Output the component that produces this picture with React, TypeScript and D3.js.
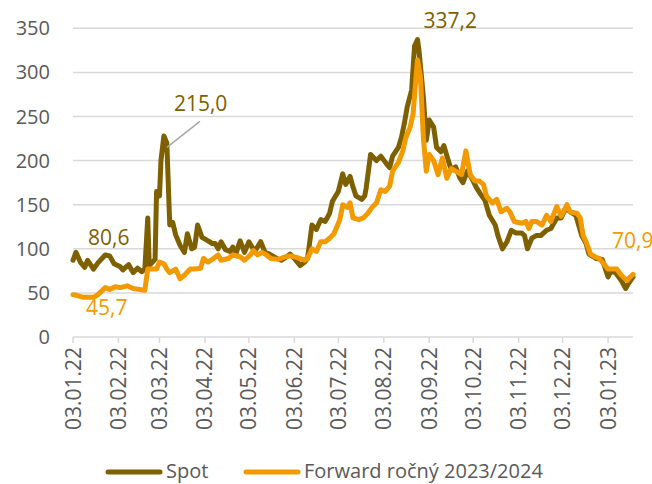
import React from 'react'
import * as d3 from 'd3'

// Spot price
const spotDates = [
  '2022-01-03', '2022-01-05', '2022-01-08', '2022-01-11', '2022-01-13', '2022-01-17', '2022-01-20', '2022-01-25',
  '2022-01-28', '2022-01-31', '2022-02-04', '2022-02-06', '2022-02-10', '2022-02-13', '2022-02-16', '2022-02-19',
  '2022-02-21', '2022-02-23', '2022-02-24', '2022-02-28', '2022-03-01', '2022-03-03', '2022-03-04', '2022-03-06',
  '2022-03-08', '2022-03-10', '2022-03-12', '2022-03-14', '2022-03-17', '2022-03-20', '2022-03-22', '2022-03-25',
  '2022-03-27', '2022-03-29', '2022-04-01', '2022-04-04', '2022-04-08', '2022-04-10', '2022-04-12', '2022-04-14',
  '2022-04-17', '2022-04-20', '2022-04-22', '2022-04-24', '2022-04-27', '2022-04-30', '2022-05-03', '2022-05-07',
  '2022-05-11', '2022-05-14', '2022-05-17', '2022-05-22', '2022-05-25', '2022-05-28', '2022-05-31', '2022-06-03',
  '2022-06-07', '2022-06-10', '2022-06-12', '2022-06-15', '2022-06-18', '2022-06-21', '2022-06-24', '2022-06-27',
  '2022-06-29', '2022-07-03', '2022-07-06', '2022-07-08', '2022-07-11', '2022-07-13', '2022-07-15', '2022-07-19',
  '2022-07-21', '2022-07-22', '2022-07-25', '2022-07-29', '2022-08-01', '2022-08-05', '2022-08-07', '2022-08-09',
  '2022-08-13', '2022-08-15', '2022-08-17', '2022-08-19', '2022-08-22', '2022-08-24', '2022-08-26', '2022-08-27',
  '2022-08-30', '2022-09-01', '2022-09-03', '2022-09-06', '2022-09-08', '2022-09-11', '2022-09-13', '2022-09-16',
  '2022-09-18', '2022-09-21', '2022-09-24', '2022-09-26', '2022-09-29', '2022-10-02', '2022-10-05', '2022-10-08',
  '2022-10-11', '2022-10-14', '2022-10-18', '2022-10-20', '2022-10-23', '2022-10-26', '2022-10-29', '2022-11-01',
  '2022-11-05', '2022-11-07', '2022-11-09', '2022-11-12', '2022-11-15', '2022-11-18', '2022-11-22', '2022-11-25',
  '2022-11-29', '2022-12-02', '2022-12-05', '2022-12-09', '2022-12-12', '2022-12-16', '2022-12-19', '2022-12-21',
  '2022-12-26', '2022-12-30', '2023-01-03', '2023-01-05', '2023-01-08', '2023-01-12', '2023-01-15', '2023-01-17',
  '2023-01-20',
]
const spotValues = [
  87, 96, 85, 79, 87, 77, 84, 93,
  92, 83, 80, 76, 82, 73, 78, 74,
  77, 135, 81, 88, 165, 160, 200, 228,
  220, 127, 130, 116, 104, 96, 117, 100,
  102, 127, 113, 110, 106, 106, 100, 108,
  99, 97, 102, 94, 109, 96, 108, 97,
  108, 96, 94, 89, 87, 90, 94, 89,
  81, 85, 89, 127, 122, 133, 131, 140,
  154, 165, 185, 173, 182, 170, 160, 156,
  160, 169, 207, 200, 205, 196, 192, 205,
  215, 226, 242, 261, 280, 330, 337.2, 325,
  272, 223, 246, 238, 215, 210, 217, 200,
  190, 193, 180, 175, 188, 180, 170, 162,
  155, 138, 127, 114, 100, 108, 121, 118,
  118, 115, 100, 112, 115, 115, 121, 123,
  135, 135, 146, 141, 138, 115, 106, 94,
  89, 88, 68, 75, 73, 64, 55, 61,
  68,
]

// Forward 2023/2024
const fwdDates = [
  '2022-01-03', '2022-01-06', '2022-01-10', '2022-01-17', '2022-01-20', '2022-01-25', '2022-01-28', '2022-02-01',
  '2022-02-04', '2022-02-09', '2022-02-13', '2022-02-17', '2022-02-21', '2022-02-23', '2022-02-26', '2022-03-01',
  '2022-03-03', '2022-03-06', '2022-03-08', '2022-03-10', '2022-03-14', '2022-03-17', '2022-03-20', '2022-03-24',
  '2022-03-27', '2022-03-31', '2022-04-02', '2022-04-05', '2022-04-08', '2022-04-12', '2022-04-14', '2022-04-19',
  '2022-04-22', '2022-04-27', '2022-04-30', '2022-05-04', '2022-05-06', '2022-05-09', '2022-05-12', '2022-05-15',
  '2022-05-18', '2022-05-23', '2022-05-28', '2022-05-31', '2022-06-05', '2022-06-10', '2022-06-12', '2022-06-15',
  '2022-06-18', '2022-06-21', '2022-06-24', '2022-06-27', '2022-06-30', '2022-07-02', '2022-07-04', '2022-07-06',
  '2022-07-09', '2022-07-11', '2022-07-13', '2022-07-17', '2022-07-20', '2022-07-23', '2022-07-26', '2022-07-29',
  '2022-08-01', '2022-08-04', '2022-08-07', '2022-08-09', '2022-08-13', '2022-08-16', '2022-08-18', '2022-08-21',
  '2022-08-23', '2022-08-25', '2022-08-26', '2022-08-28', '2022-08-30', '2022-09-01', '2022-09-03', '2022-09-06',
  '2022-09-09', '2022-09-12', '2022-09-15', '2022-09-18', '2022-09-21', '2022-09-25', '2022-09-28', '2022-10-01',
  '2022-10-04', '2022-10-07', '2022-10-10', '2022-10-12', '2022-10-16', '2022-10-19', '2022-10-22', '2022-10-26',
  '2022-10-28', '2022-10-31', '2022-11-05', '2022-11-08', '2022-11-10', '2022-11-12', '2022-11-15', '2022-11-19',
  '2022-11-22', '2022-11-25', '2022-11-29', '2022-12-02', '2022-12-06', '2022-12-08', '2022-12-13', '2022-12-15',
  '2022-12-17', '2022-12-19', '2022-12-22', '2022-12-25', '2022-12-28', '2022-12-31', '2023-01-03', '2023-01-06',
  '2023-01-09', '2023-01-12', '2023-01-16', '2023-01-18', '2023-01-20',
]
const fwdValues = [
  48, 47, 45, 45, 48, 56, 54, 57,
  56, 58, 55, 54, 53, 77, 77, 77,
  85, 83, 77, 73, 77, 66, 70, 77,
  77, 78, 89, 85, 88, 93, 87, 89,
  93, 91, 87, 93, 98, 93, 96, 93,
  89, 88, 91, 92, 90, 87, 89, 100,
  97, 108, 108, 112, 117, 125, 133, 150,
  147, 152, 135, 133, 135, 140, 147, 152,
  167, 165, 171, 188, 198, 211, 226, 238,
  253, 295, 314, 295, 226, 188, 207, 200,
  184, 203, 180, 191, 188, 184, 211, 184,
  177, 177, 173, 160, 152, 156, 142, 146,
  142, 131, 129, 131, 123, 131, 131, 127,
  138, 131, 148, 137, 150, 142, 140, 135,
  115, 108, 94, 91, 89, 83, 77, 77,
  77, 70, 64, 68, 70.9,
]

const xTickLabels = [
  '03.01.22', '03.02.22', '03.03.22', '03.04.22', '03.05.22', '03.06.22', '03.07.22',
  '03.08.22', '03.09.22', '03.10.22', '03.11.22', '03.12.22', '03.01.23',
]
const yTicks = [0, 50, 100, 150, 200, 250, 300, 350]

const seriesNames = ['Spot', 'Forward ročný 2023/2024']
const seriesColors = ['#7F6000', '#F39A00']

const parseDate = d3.timeParse('%Y-%m-%d')
const parseTick = d3.timeParse('%d.%m.%y')
const FONT = "'Open Sans', sans-serif"
const fmt = (v: number) => v.toFixed(1).replace('.', ',')

const App = () => {
  const width = 652
  const height = 484
  const left = 73
  const right = 633
  const top = 28.3
  const bottom = 337

  const spot = spotDates.map((d, i) => ({ date: parseDate(d) as Date, value: spotValues[i] }))
  const fwd = fwdDates.map((d, i) => ({ date: parseDate(d) as Date, value: fwdValues[i] }))

  const x = d3
    .scaleTime()
    .domain([spot[0].date, spot[spot.length - 1].date])
    .range([left, right])
  const y = d3.scaleLinear().domain([0, 350]).range([bottom, top])

  const line = d3
    .line<{ date: Date; value: number }>()
    .x((d) => x(d.date))
    .y((d) => y(d.value))

  const ticks = xTickLabels.map((t) => ({ label: t, date: parseTick(t) as Date }))

  // annotated points
  const first = spot[0]
  const peak = spot[d3.maxIndex(spot, (d) => d.value)]
  const marchPeak = spot[d3.maxIndex(spot.slice(0, 40), (d) => d.value)]
  const lastFwd = fwd[fwd.length - 1]

  return (
    <svg width={width} height={height} style={{ position: 'absolute', left: 0, top: 0 }} fontFamily={FONT}>
      <rect width={width} height={height} fill="#fff" />
      {/* grid */}
      {yTicks.map((t) => (
        <line key={t} x1={left} x2={right} y1={y(t)} y2={y(t)} stroke="#d9d9d9" strokeWidth={1.5} />
      ))}
      {yTicks.map((t) => (
        <text key={'l' + t} x={50} y={y(t)} dy="0.35em" textAnchor="end" fontSize={20} fill="#595959">
          {t}
        </text>
      ))}
      {/* x axis ticks */}
      {ticks.map((t) => (
        <g key={t.label} transform={`translate(${x(t.date)},0)`}>
          <line y1={bottom} y2={bottom + 6} stroke="#d9d9d9" strokeWidth={1.5} />
          <text
            transform={`translate(0,${bottom + 10}) rotate(-90)`}
            dy="0.36em"
            textAnchor="end"
            fontSize={21}
            fill="#595959"
          >
            {t.label}
          </text>
        </g>
      ))}
      {/* series */}
      <path d={line(spot) || ''} fill="none" stroke={seriesColors[0]} strokeWidth={5} strokeLinejoin="round" strokeLinecap="round" />
      <path d={line(fwd) || ''} fill="none" stroke={seriesColors[1]} strokeWidth={5} strokeLinejoin="round" strokeLinecap="round" />

      {/* labels */}
      <text x={x(peak.date) + 6} y={y(peak.value) - 12} fontSize={21} fill={seriesColors[0]}>
        {fmt(peak.value)}
      </text>
      <line
        x1={x(marchPeak.date) + 3}
        y1={y(215)}
        x2={x(marchPeak.date) + 36}
        y2={y(215) - 26}
        stroke="#a6a6a6"
        strokeWidth={1.5}
      />
      <text x={x(marchPeak.date) + 10} y={y(215) - 36} fontSize={21} fill={seriesColors[0]}>
        {fmt(215)}
      </text>
      <text x={x(first.date) + 15} y={y(80.6) - 21} fontSize={21} fill={seriesColors[0]}>
        {fmt(80.6)}
      </text>
      <text x={x(first.date) + 13} y={y(45.7) + 18} fontSize={21} fill={seriesColors[1]}>
        {fmt(45.7)}
      </text>
      <text x={x(lastFwd.date) - 21} y={y(lastFwd.value) - 26} fontSize={21} fill={seriesColors[1]}>
        {fmt(lastFwd.value)}
      </text>

      {/* legend */}
      {seriesNames.map((name, i) => {
        const lx = [108, 246][i]
        return (
          <g key={name}>
            <line x1={lx} x2={lx + 52} y1={472} y2={472} stroke={seriesColors[i]} strokeWidth={5} strokeLinecap="round" />
            <text x={lx + 58} y={478} fontSize={20} fill="#595959">
              {name}
            </text>
          </g>
        )
      })}
    </svg>
  )
}

export default App
